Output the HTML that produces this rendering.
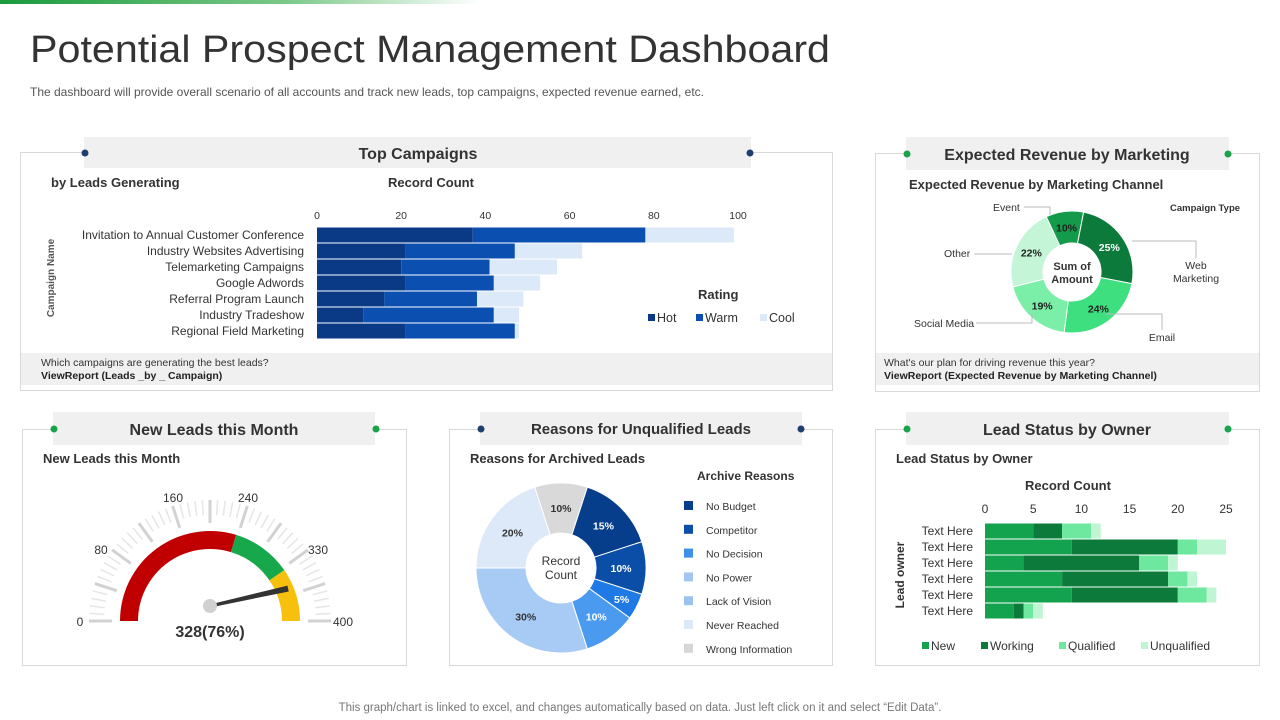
<!DOCTYPE html>
<html><head><meta charset="utf-8"><style>
html,body{margin:0;padding:0;background:#fff;width:1280px;height:720px;overflow:hidden}
svg{display:block;font-family:"Liberation Sans",sans-serif}
</style></head><body>
<svg id="s" width="1280" height="720" viewBox="0 0 1280 720">
<defs><linearGradient id="tg" x1="0" x2="1"><stop offset="0" stop-color="#1a9a3c"/><stop offset="0.6" stop-color="#7cc98a"/><stop offset="1" stop-color="#fff"/></linearGradient></defs>
<rect x="0" y="0" width="480" height="4" fill="url(#tg)"/>
<text x="30" y="62" font-size="38" fill="#333" textLength="800" lengthAdjust="spacingAndGlyphs">Potential Prospect Management Dashboard</text>
<text x="30" y="96" font-size="12" fill="#555" textLength="674" lengthAdjust="spacingAndGlyphs">The dashboard will provide overall scenario of all accounts and track new leads, top campaigns, expected revenue earned, etc.</text>

<g>
<rect x="20.5" y="152.5" width="812" height="238" fill="#fff" stroke="#d9d9d9"/>
<rect x="84" y="137" width="667" height="31" fill="#f0f0f0"/>
<circle cx="85" cy="153" r="3.5" fill="#1f3f6e"/><circle cx="750" cy="153" r="3.5" fill="#1f3f6e"/>
<text x="418" y="159" font-size="16" fill="#333" text-anchor="middle" font-weight="bold">Top Campaigns</text>
<text x="51" y="187" font-size="13" fill="#333" font-weight="bold">by Leads Generating</text>
<text x="388" y="187" font-size="13" fill="#333" font-weight="bold">Record Count</text>
<text transform="translate(54,278) rotate(-90)" font-size="10" fill="#555" font-weight="bold" text-anchor="middle">Campaign Name</text>
<rect x="21" y="353" width="811" height="32" fill="#f0f0f0"/>
<text x="41" y="366" font-size="10.5" fill="#333">Which campaigns are generating the best leads?</text>
<text x="41" y="379" font-size="10.5" fill="#222" font-weight="bold">ViewReport (Leads _by _ Campaign)</text>
<text x="698" y="299" font-size="13" fill="#333" font-weight="bold">Rating</text>
</g>
<g>
<rect x="875.5" y="153.5" width="384" height="238" fill="#fff" stroke="#d9d9d9"/>
<rect x="906" y="137" width="323" height="33" fill="#f0f0f0"/>
<circle cx="907" cy="154" r="3.5" fill="#19a34a"/><circle cx="1228" cy="154" r="3.5" fill="#19a34a"/>
<text x="1067" y="160" font-size="16" fill="#333" text-anchor="middle" font-weight="bold">Expected Revenue by Marketing</text>
<text x="909" y="189" font-size="13" fill="#333" font-weight="bold">Expected Revenue by Marketing Channel</text>
<text x="1170" y="211" font-size="9.5" fill="#333" font-weight="bold">Campaign Type</text>
<text x="1072" y="270" font-size="11" fill="#333" text-anchor="middle" font-weight="bold">Sum of</text>
<text x="1072" y="283" font-size="11" fill="#333" text-anchor="middle" font-weight="bold">Amount</text>
<rect x="876" y="353" width="383" height="32" fill="#f0f0f0"/>
<text x="884" y="366" font-size="10.5" fill="#333">What's our plan for driving revenue this year?</text>
<text x="884" y="379" font-size="10.5" fill="#222" font-weight="bold">ViewReport (Expected Revenue by Marketing Channel)</text>
</g>
<g>
<rect x="22.5" y="429.5" width="384" height="236" fill="#fff" stroke="#d9d9d9"/>
<rect x="53" y="412" width="322" height="33" fill="#f0f0f0"/>
<circle cx="54" cy="429" r="3.5" fill="#19a34a"/><circle cx="376" cy="429" r="3.5" fill="#19a34a"/>
<text x="214" y="435" font-size="16" fill="#333" text-anchor="middle" font-weight="bold">New Leads this Month</text>
<text x="43" y="463" font-size="13" fill="#333" font-weight="bold">New Leads this Month</text>
</g>
<g>
<rect x="449.5" y="429.5" width="383" height="236" fill="#fff" stroke="#d9d9d9"/>
<rect x="480" y="412" width="322" height="33" fill="#f0f0f0"/>
<circle cx="481" cy="429" r="3.5" fill="#1f3f6e"/><circle cx="801" cy="429" r="3.5" fill="#1f3f6e"/>
<text x="641" y="434" font-size="15" fill="#333" text-anchor="middle" font-weight="bold">Reasons for Unqualified Leads</text>
<text x="470" y="463" font-size="13" fill="#333" font-weight="bold">Reasons for Archived Leads</text>
<text x="697" y="480" font-size="12" fill="#333" font-weight="bold">Archive Reasons</text>
<text x="561" y="565" font-size="12" fill="#333" text-anchor="middle">Record</text>
<text x="561" y="579" font-size="12" fill="#333" text-anchor="middle">Count</text>
</g>
<g>
<rect x="875.5" y="429.5" width="384" height="236" fill="#fff" stroke="#d9d9d9"/>
<rect x="906" y="412" width="323" height="33" fill="#f0f0f0"/>
<circle cx="907" cy="429" r="3.5" fill="#19a34a"/><circle cx="1228" cy="429" r="3.5" fill="#19a34a"/>
<text x="1067" y="435" font-size="16" fill="#333" text-anchor="middle" font-weight="bold">Lead Status by Owner</text>
<text x="896" y="463" font-size="13" fill="#333" font-weight="bold">Lead Status by Owner</text>
<text x="1068" y="490" font-size="13" fill="#333" text-anchor="middle" font-weight="bold">Record Count</text>
<text transform="translate(904,575) rotate(-90)" font-size="12" fill="#333" text-anchor="middle" font-weight="bold">Lead owner</text>
</g>
<text x="640" y="711" font-size="11.5" fill="#777" text-anchor="middle">This graph/chart is linked to excel,  and changes automatically based on data. Just left click on it and select “Edit Data”.</text>
<g id="charts"></g>
</svg>
<script>
// ---- Top campaigns data ----
const campaigns = ["Invitation to Annual Customer Conference","Industry Websites Advertising","Telemarketing Campaigns","Google Adwords","Referral Program Launch","Industry Tradeshow","Regional Field Marketing"];
const hotValues = [37,21,20,21,16,11,21];
const warmValues = [41,26,21,21,22,31,26];
const coolValues = [21,16,16,11,11,6,1];
const campaignTicks = [0,20,40,60,80,100];
const ratingNames = ["Hot","Warm","Cool"];
// ---- Revenue donut ----
const channels = ["Event","Web Marketing","Email","Social Media","Other"];
const channelShares = [10,25,24,19,22];
// ---- Gauge ----
const gaugeBands = [0.594,0.809,1];
const gaugeTickLabels = ["0","80","160","240","330","400"];
const gaugeValueLabel = "328(76%)";
const needleFraction = 0.93;
// ---- Archive reasons ----
const reasons = ["No Budget","Competitor","No Decision","Lack of Vision","No Power","Never Reached","Wrong Information"];
const reasonShares = [15,10,5,10,30,20,10];
const legendReasons = ["No Budget","Competitor","No Decision","No Power","Lack of Vision","Never Reached","Wrong Information"];
// ---- Lead status ----
const owners = ["Text Here","Text Here","Text Here","Text Here","Text Here","Text Here"];
const newVals = [5,9,4,8,9,3];
const workingVals = [3,11,12,11,11,1];
const qualifiedVals = [3,2,3,2,3,1];
const unqualifiedVals = [1,3,1,1,1,1];
const statusTicks = [0,5,10,15,20,25];
const statusNames = ["New","Working","Qualified","Unqualified"];

const NS="http://www.w3.org/2000/svg";
const G=document.getElementById('charts');
function mk(tag,attrs,txt){const e=document.createElementNS(NS,tag);for(const k in attrs)e.setAttribute(k,attrs[k]);if(txt!==undefined)e.textContent=txt;G.appendChild(e);return e;}
function arcPath(cx,cy,r0,r1,a0,a1){
 const p=(r,a)=>[cx+r*Math.sin(a*Math.PI/180),cy-r*Math.cos(a*Math.PI/180)];
 const l=(a1-a0)>180?1:0;const A=p(r1,a0),B=p(r1,a1),C=p(r0,a1),D=p(r0,a0);
 return `M${A}A${r1},${r1} 0 ${l} 1 ${B}L${C}A${r0},${r0} 0 ${l} 0 ${D}Z`;}

// Top campaigns
const cx0=317,cScale=4.21,rowY0=235,rowStep=16,bh=15;
const cX=v=>cx0+v*cScale;
const cColors=["#0a3a85","#0b50b0","#dce9f8"];
campaignTicks.forEach(t=>{const e=mk('text',{x:cX(t),y:219,'font-size':10.5,fill:'#333','text-anchor':'middle'},t);

});
campaigns.forEach((c,i)=>{const y=rowY0+i*rowStep;
 const l=mk('text',{x:304,y:y+4,'font-size':12,fill:'#333','text-anchor':'end'},c);
 
 
 let acc=0;[hotValues[i],warmValues[i],coolValues[i]].forEach((v,k)=>{
  const r=mk('rect',{x:cX(acc),y:y-bh/2,width:v*cScale,height:bh,fill:cColors[k]});
  
  
  acc+=v;});});
[648,696,760].forEach((x,k)=>{const r=mk('rect',{x:x,y:314,width:7,height:7,fill:cColors[k]});
 
 
 const t=mk('text',{x:x+9,y:322,'font-size':12.5,fill:'#333'},ratingNames[k]);
 
 });

// Revenue donut
const rC=[1072,272],rCol=["#139a4a","#0c7a3a","#3ddf7f","#7beea8","#c3f5d6"];
const rTot=channelShares.reduce((a,b)=>a+b,0);let ra=-25;
const rLab=[["Event",993,211,'start'],["Web",1196,269,'middle'],["Email",1162,341,'middle'],["Social Media",914,327,'start'],["Other",944,257,'start']];
channelShares.forEach((v,i)=>{const sw=v/rTot*360;
 const p=mk('path',{d:arcPath(rC[0],rC[1],29,61,ra,ra+sw),fill:rCol[i],stroke:'#fff','stroke-width':1});
 
 
 const m=(ra+sw/2)*Math.PI/180;
 const t=mk('text',{x:rC[0]+45*Math.sin(m),y:rC[1]-45*Math.cos(m)+4,'font-size':10.5,'font-weight':'bold',fill:i==1?'#fff':'#222','text-anchor':'middle'},v+'%');
 
 
 ra+=sw;});
rLab.forEach(l=>{const t=mk('text',{x:l[1],y:l[2],'font-size':10.5,fill:'#333','text-anchor':l[3]},l[0]);
 
 });
mk('text',{x:1196,y:282,'font-size':10.5,fill:'#333','text-anchor':'middle'},"Marketing");
mk('path',{d:'M1024,207H1050V215M1132,241H1196V258M1106,314H1162V330M976,323H1032V314M974,254H1012',fill:'none',stroke:'#bbb'});

// Gauge
const gc=[210,621];
for(let i=0;i<=50;i++){const a=-90+i*180/50,r0=i%5==0?98:106,r1=121;const m=a*Math.PI/180;
 mk('line',{x1:gc[0]+r0*Math.sin(m),y1:gc[1]-r0*Math.cos(m),x2:gc[0]+r1*Math.sin(m),y2:gc[1]-r1*Math.cos(m),stroke:i%5==0?'#d2d2d2':'#e6e6e6','stroke-width':i%5==0?3:1.5});}
const gCol=["#c00000","#16a84a","#f7c00c"];let gp=0;
gaugeBands.forEach((f,i)=>{const p=mk('path',{d:arcPath(gc[0],gc[1],72,90,-90+gp*180,-90+f*180),fill:gCol[i]});
 
 gp=f;});
const gl=[[80,626],[101,554],[173,502],[248,502],[318,554],[343,626]];
gaugeTickLabels.forEach((t,i)=>{const e=mk('text',{x:gl[i][0],y:gl[i][1],'font-size':12,fill:'#333','text-anchor':'middle'},t);
 
 });
const na=(-90+needleFraction*180)*Math.PI/180,nc=[210,606];
const nt=[nc[0]+80*Math.sin(na),nc[1]-80*Math.cos(na)];const pa=na+Math.PI/2;
const nd=mk('path',{d:`M${nc[0]+1.5*Math.sin(pa)},${nc[1]-1.5*Math.cos(pa)}L${nt[0]+3*Math.sin(pa)},${nt[1]-3*Math.cos(pa)}L${nt[0]-3*Math.sin(pa)},${nt[1]+3*Math.cos(pa)}L${nc[0]-1.5*Math.sin(pa)},${nc[1]+1.5*Math.cos(pa)}Z`,fill:'#333'});


mk('circle',{cx:nc[0],cy:nc[1],r:7,fill:'#d0d0d0'});
const gv=mk('text',{x:210,y:637,'font-size':16,'font-weight':'bold',fill:'#333','text-anchor':'middle'},gaugeValueLabel);



// Archive reasons donut
const aC=[561,568],aCol=["#063e8b","#0a4ea8","#1f7ae6","#4a9af0","#a8cbf5","#dde9f8","#d9d9d9"];
const legCol=["#063e8b","#0a4ea8","#3d8fe8","#a3c6f0","#9cc3f0","#dbe8f8","#d6d6d6"];
const aTot=reasonShares.reduce((a,b)=>a+b,0);let aa=18;
reasonShares.forEach((v,i)=>{const sw=v/aTot*360;
 const p=mk('path',{d:arcPath(aC[0],aC[1],35,85,aa,aa+sw),fill:aCol[i],stroke:'#fff','stroke-width':1});
 
 
 const m=(aa+sw/2)*Math.PI/180,rr=i==2?68:60;
 const t=mk('text',{x:aC[0]+rr*Math.sin(m),y:aC[1]-rr*Math.cos(m)+4,'font-size':10.5,'font-weight':'bold',fill:i<4?'#fff':'#333','text-anchor':'middle'},v+'%');
 
 
 aa+=sw;});
legendReasons.forEach((r,i)=>{const y=506+i*23.8;
 const s=mk('rect',{x:684,y:y-5,width:9,height:9,fill:legCol[i]});
 
 
 const t=mk('text',{x:706,y:y+4,'font-size':10.5,fill:'#333'},r);
 
 });

// Lead status
const sx0=985,sScale=9.64,sY0=531,sStep=16;const sX=v=>sx0+v*sScale;
const sCol=["#13a24e","#0b7a3a","#6ee89f","#bff5d3"];
statusTicks.forEach(t=>{const e=mk('text',{x:sX(t),y:513,'font-size':12,fill:'#333','text-anchor':'middle'},t);
 
 });
owners.forEach((o,i)=>{const y=sY0+i*sStep;
 const l=mk('text',{x:973,y:y+4,'font-size':12,fill:'#333','text-anchor':'end'},o);
 
 
 let acc=0;[newVals[i],workingVals[i],qualifiedVals[i],unqualifiedVals[i]].forEach((v,k)=>{
  const r=mk('rect',{x:sX(acc),y:y-7.5,width:v*sScale,height:15,fill:sCol[k]});
  
  
  acc+=v;});});
[922,981,1059,1141].forEach((x,k)=>{const s=mk('rect',{x:x,y:642,width:7,height:7,fill:sCol[k]});
 
 
 const t=mk('text',{x:x+9,y:650,'font-size':12,fill:'#333'},statusNames[k]);
 
 });
</script>
</body></html>
